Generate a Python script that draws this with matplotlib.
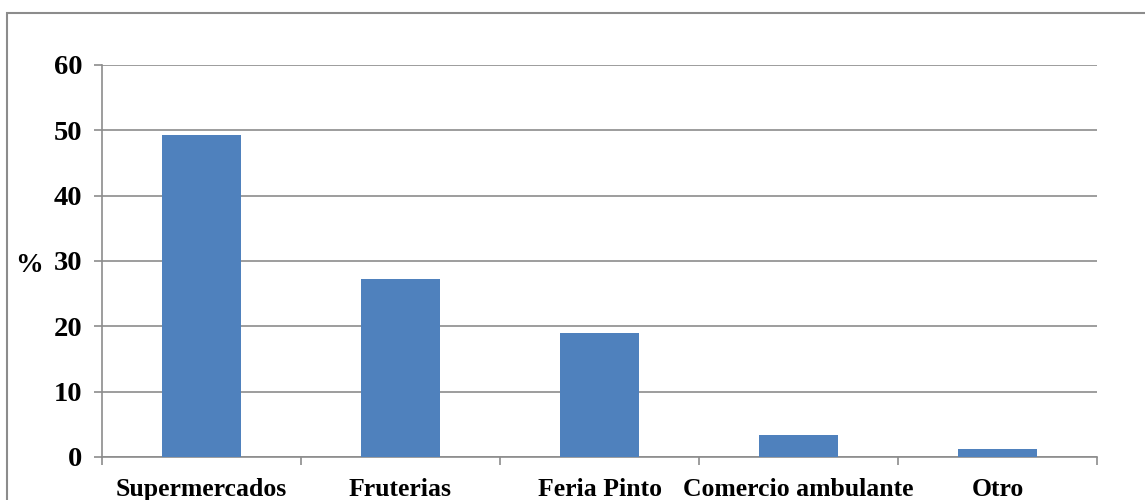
import matplotlib.pyplot as plt
from matplotlib.patches import Rectangle

categories = ["Supermercados", "Fruterias", "Feria Pinto", "Comercio ambulante", "Otro"]
values = [49.3, 27.3, 19.0, 3.4, 1.3]
yticks = [0, 10, 20, 30, 40, 50, 60]

plt.rcParams['font.family'] = ['Liberation Serif', 'DejaVu Serif']
grey = "#8c8c8c"

fig = plt.figure(figsize=(11.45, 5), dpi=100)
ax = fig.add_axes([102 / 1145, 43 / 500, 995 / 1145, 392 / 500])

x = list(range(len(categories)))
ax.bar(x, values, width=0.4, color="#4f81bd", zorder=3)

ax.set_xlim(-0.5, len(categories) - 0.5)
ax.set_ylim(0, 60)
ax.set_yticks(yticks)
ax.set_yticklabels([str(t) for t in yticks], fontsize=20.5, fontweight="bold")
ax.yaxis.grid(True, color=grey, linewidth=1.2, zorder=0)

# category labels centred, tick marks at category boundaries
ax.set_xticks(x)
ax.set_xticklabels(categories, fontsize=18.5, fontweight="bold")
ax.tick_params(axis="x", length=0, pad=15)
ax.set_xticks([i - 0.5 for i in range(len(categories) + 1)], minor=True)
ax.tick_params(axis="x", which="minor", length=6, color=grey, width=1.2)
ax.tick_params(axis="y", length=6, color=grey, width=1.2, pad=8)

for s in ["top", "right"]:
    ax.spines[s].set_visible(False)
for s in ["left", "bottom"]:
    ax.spines[s].set_color(grey)
    ax.spines[s].set_linewidth(1.2)

fig.text(29 / 1145, 1 - 265 / 500, "%", fontsize=20, fontweight="bold",
         ha="center", va="center")

# outer chart border
fig.patches.append(Rectangle((7 / 1145, -0.1), 2, 1.1 - 13 / 500,
                             transform=fig.transFigure, fill=False,
                             edgecolor=grey, linewidth=1.5))

fig.savefig("out.png", dpi=100)
